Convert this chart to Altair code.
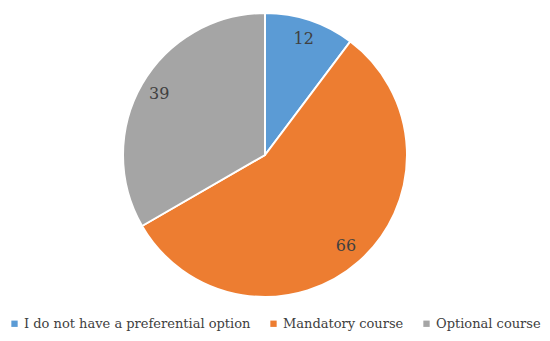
import altair as alt
import pandas as pd

categories = ["I do not have a preferential option", "Mandatory course", "Optional course"]
values = [12, 66, 39]
colors = ["#5B9BD5", "#ED7D31", "#A5A5A5"]

df = pd.DataFrame({"category": categories, "value": values, "order": [0, 1, 2]})

cx, cy, R = 257, 147, 142
FONT = "DejaVu Serif"

base = alt.Chart(df).encode(
    theta=alt.Theta("value:Q", stack=True),
    order=alt.Order("order:Q"),
)

pie = base.mark_arc(outerRadius=R, stroke="white", strokeWidth=2).encode(
    x=alt.value(cx),
    y=alt.value(cy),
    color=alt.Color(
        "category:N",
        scale=alt.Scale(domain=categories, range=colors),
        sort=categories,
        legend=alt.Legend(
            title=None,
            orient="none",
            legendX=0,
            legendY=309,
            direction="horizontal",
            symbolType="square",
            symbolSize=40,
            symbolStrokeWidth=0,
            labelFont=FONT,
            labelFontSize=13,
            labelColor="#404040",
            labelLimit=400,
            columnPadding=16,
            symbolOffset=0,
            labelOffset=3,
        ),
    ),
)
labels = base.mark_text(
    radius=R * 0.86, font=FONT, fontSize=16
).encode(x=alt.value(cx), y=alt.value(cy), text="value:Q", color=alt.value("#404040"))

chart = (
    alt.layer(pie, labels)
    .properties(width=534, height=325, padding=0)
    .configure(font=FONT)
    .configure_view(stroke=None)
)
chart.save("out.html", embed_options={"renderer": "svg", "actions": False})
